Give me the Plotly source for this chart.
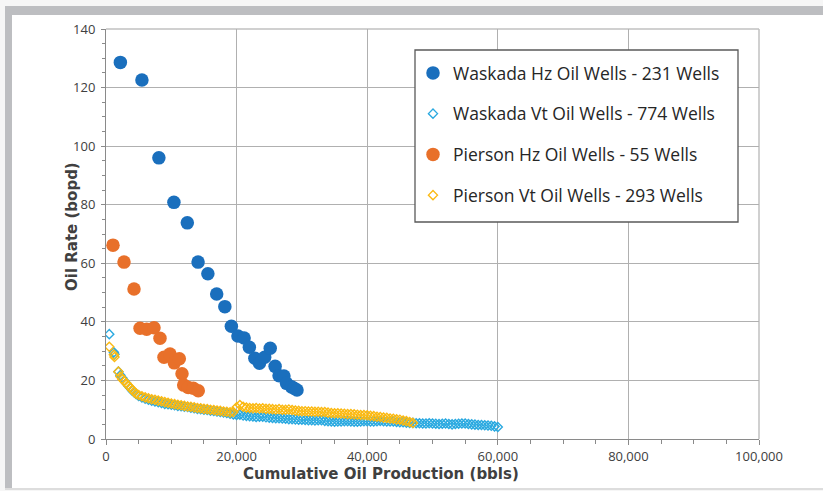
import plotly.graph_objects as go

# ---------------- data ----------------
waskada_hz_x = [2200, 5500, 8100, 10400, 12450, 14100, 15600, 16950, 18200, 19200, 20200, 21150,
                21950, 22800, 23500, 24300, 25150, 25900, 26500, 27250, 27650, 28400, 28800, 29250]
waskada_hz_y = [128.6, 122.6, 96.0, 80.8, 73.8, 60.4, 56.4, 49.5, 45.2, 38.5, 35.2, 34.5,
                31.3, 27.6, 25.9, 27.9, 31.0, 24.8, 21.6, 21.5, 19.0, 17.8, 17.3, 16.7]

pierson_hz_x = [1070, 2760, 4290, 5210, 6230, 7350, 8270, 8880, 9800, 10460, 11230, 11640,
                11900, 12600, 13370, 14130]
pierson_hz_y = [66.2, 60.4, 51.2, 37.8, 37.5, 38.0, 34.4, 27.9, 29.0, 26.0, 27.4, 22.3,
                18.4, 17.6, 17.3, 16.5]

waskada_vt_x = [500, 1200, 1300, 1900, 2200, 2500, 2800, 3100, 3400, 3700, 4000, 4300, 4600,
                5000, 5500, 6000, 6500, 7000, 7500, 8000, 8500, 9000, 9500, 10000, 10500,
                11000, 11500, 12000, 12500, 13000, 13500, 14000, 14500, 15000, 15500, 16000,
                16500, 17000, 17500, 18000, 18500, 19000, 19500, 20000, 20500, 21000, 21500,
                22000, 22500, 23000, 23500, 24000, 24500, 25000, 25500, 26000, 26500, 27000,
                27500, 28000, 28500, 29000, 29500, 30000, 30500, 31000, 31500, 32000, 32500,
                33000, 33500, 34000, 34500, 35000, 35500, 36000, 36500, 37000, 37500, 38000,
                38500, 39000, 39500, 40000, 40500, 41000, 41500, 42000, 42500, 43000, 43500,
                44000, 44500, 45000, 45500, 46000, 46500, 47000, 47500, 48000, 48500, 49000,
                49500, 50000, 50500, 51000, 51500, 52000, 52500, 53000, 53500, 54000, 54500,
                55000, 55500, 56000, 56500, 57000, 57500, 58000, 58500, 59000, 59500, 60000]
waskada_vt_y = [35.8, 29.6, 28.9, 23.0, 21.8, 20.8, 19.9, 19.0, 18.2, 17.4, 16.6, 16.0, 15.4,
                14.7, 14.2, 13.8, 13.4, 13.1, 12.8, 12.6, 12.3, 12.0, 11.9, 11.7, 11.5,
                11.3, 11.2, 11.0, 10.9, 10.7, 10.5, 10.3, 10.2, 10.0, 9.9, 9.7,
                9.6, 9.4, 9.2, 9.1, 8.9, 8.6, 8.4, 8.2, 8.3, 8.0, 7.9,
                7.8, 7.7, 7.5, 7.6, 7.6, 7.4, 7.3, 7.2, 7.1, 7.1, 7.0,
                6.9, 6.8, 6.8, 6.7, 6.6, 6.6, 6.5, 6.4, 6.4, 6.3, 6.4,
                6.4, 6.2, 6.1, 6.0, 5.9, 6.0, 6.0, 6.1, 6.1, 6.0, 5.9,
                5.9, 6.0, 6.1, 6.1, 6.0, 6.0, 6.1, 6.2, 6.1, 6.0, 6.0,
                6.0, 5.8, 5.7, 5.7, 5.6, 5.5, 5.5, 5.4, 5.4, 5.3, 5.3,
                5.4, 5.3, 5.2, 5.1, 5.2, 5.3, 5.1, 5.0, 5.1, 5.2, 5.3,
                5.3, 5.1, 5.0, 4.9, 4.8, 4.8, 4.7, 4.6, 4.5, 4.3, 4.1]

pierson_vt_x = [500, 1200, 1300, 1900, 2200, 2500, 2800, 3100, 3400, 3700, 4000, 4300, 4600,
                5000, 5500, 6000, 6500, 7000, 7500, 8000, 8500, 9000, 9500, 10000, 10500,
                11000, 11500, 12000, 12500, 13000, 13500, 14000, 14500, 15000, 15500, 16000,
                16500, 17000, 17500, 18000, 18500, 19000, 19500, 20000, 20500, 21000, 21500,
                22000, 22500, 23000, 23500, 24000, 24500, 25000, 25500, 26000, 26500, 27000,
                27500, 28000, 28500, 29000, 29500, 30000, 30500, 31000, 31500, 32000, 32500,
                33000, 33500, 34000, 34500, 35000, 35500, 36000, 36500, 37000, 37500, 38000,
                38500, 39000, 39500, 40000, 40500, 41000, 41500, 42000, 42500, 43000, 43500,
                44000, 44500, 45000, 45500, 46000, 46500, 47000]
pierson_vt_y = [31.5, 28.8, 28.0, 23.0, 21.3, 20.4, 19.7, 19.0, 18.3, 17.6, 16.8, 16.1, 15.5,
                15.0, 14.6, 14.2, 13.9, 13.6, 13.4, 13.1, 12.9, 12.6, 12.4, 12.1, 11.9,
                11.7, 11.5, 11.3, 11.1, 11.0, 10.8, 10.6, 10.5, 10.3, 10.2, 10.0,
                9.9, 9.7, 9.6, 9.4, 9.3, 9.1, 9.2, 10.8, 11.6, 11.0, 10.7,
                10.6, 10.5, 10.6, 10.4, 10.5, 10.3, 10.3, 10.2, 10.1, 10.2, 10.0,
                10.0, 10.1, 9.9, 9.7, 9.6, 9.5, 9.5, 9.4, 9.4, 9.3, 9.3,
                9.2, 9.2, 9.0, 8.9, 8.8, 8.8, 8.7, 8.6, 8.5, 8.5, 8.4,
                8.3, 8.2, 8.2, 8.1, 7.9, 7.8, 7.6, 7.5, 7.3, 7.2, 7.0,
                6.9, 6.7, 6.6, 6.3, 6.1, 5.8, 5.5]

series_names = ["Waskada Hz Oil Wells - 231 Wells", "Waskada Vt Oil Wells - 774 Wells",
                "Pierson Hz Oil Wells - 55 Wells", "Pierson Vt Oil Wells - 293 Wells"]

x_title = "Cumulative Oil Production (bbls)"
y_title = "Oil Rate (bopd)"

# ---------------- figure ----------------
W, H = 823, 491
L, R, T, B = 106, 64, 29, 52
pw, ph = W - L - R, H - T - B


def px(x):
    return (x - L) / pw


def py(y):
    return (H - B - y) / ph


fig = go.Figure()
fig.add_trace(go.Scatter(x=waskada_hz_x, y=waskada_hz_y, mode="markers", name=series_names[0],
                         legendgroup="a",
                         marker=dict(symbol="circle", size=13.5, color="#1a6fbd", line=dict(width=0))))
fig.add_trace(go.Scatter(x=waskada_vt_x, y=waskada_vt_y, mode="markers", name=series_names[1],
                         legendgroup="b",
                         marker=dict(symbol="diamond-open", size=7, color="#2aa9e0", line=dict(width=1.4))))
fig.add_trace(go.Scatter(x=pierson_hz_x, y=pierson_hz_y, mode="markers", name=series_names[2],
                         legendgroup="c",
                         marker=dict(symbol="circle", size=13.5, color="#e8702a", line=dict(width=0))))
fig.add_trace(go.Scatter(x=pierson_vt_x, y=pierson_vt_y, mode="markers", name=series_names[3],
                         legendgroup="d",
                         marker=dict(symbol="diamond-open", size=7, color="#fbb911", line=dict(width=1.4))))

tickfont = dict(family="Open Sans", size=13, color="#404040")

fig.update_xaxes(range=[0, 100000], dtick=20000, tick0=0, tickformat=",", showgrid=True,
                 gridcolor="#b0b0b0", gridwidth=1, showline=True, linecolor="#8a8a8a",
                 linewidth=1, ticks="outside", ticklen=5, tickcolor="#8a8a8a",
                 minor=dict(dtick=5000, ticks="outside", ticklen=4, tickcolor="#8a8a8a", showgrid=False),
                 tickfont=tickfont, zeroline=False, fixedrange=True)
fig.update_yaxes(range=[0, 140], dtick=20, tick0=0, showgrid=True,
                 gridcolor="#b0b0b0", gridwidth=1, showline=True, linecolor="#8a8a8a",
                 linewidth=1, ticks="outside", ticklen=4, tickcolor="#8a8a8a",
                 minor=dict(dtick=5, ticks="outside", ticklen=3, tickcolor="#8a8a8a", showgrid=False),
                 tickfont=tickfont, zeroline=False, ticklabelstandoff=3, fixedrange=True)

shapes = [
    # outer gray frame
    dict(type="rect", xref="paper", yref="paper", x0=px(5), x1=px(840), y0=py(488), y1=py(6),
         fillcolor="#bdbec1", line=dict(width=0), layer="below"),
    # white panel
    dict(type="rect", xref="paper", yref="paper", x0=px(12), x1=px(840), y0=py(488), y1=py(15),
         fillcolor="#ffffff", line=dict(width=0), layer="below"),
    # bottom line of frame
    dict(type="line", xref="paper", yref="paper", x0=px(5), x1=px(840), y0=py(489), y1=py(489),
         line=dict(color="#d4d4d4", width=1.5), layer="below"),
    # top and right plot borders
    dict(type="line", xref="paper", yref="paper", x0=0, x1=1, y0=1, y1=1,
         line=dict(color="#c0c0c0", width=1.5), layer="below"),
    dict(type="line", xref="paper", yref="paper", x0=1, x1=1, y0=0, y1=1,
         line=dict(color="#c0c0c0", width=1.5), layer="below"),
    # legend box
    dict(type="rect", xref="paper", yref="paper", x0=px(415), x1=px(738), y0=py(222), y1=py(50),
         fillcolor="#ffffff", line=dict(color="#595959", width=1.3), layer="above"),
]

annotations = [
    dict(text=f"<b>{x_title}</b>", xref="paper", yref="paper", x=px(381), y=py(473.5),
         showarrow=False, font=dict(family="DejaVu Sans", size=15, color="#404040"),
         xanchor="center", yanchor="middle"),
    dict(text=f"<b>{y_title}</b>", xref="paper", yref="paper", x=px(72), y=py(227),
         showarrow=False, textangle=-90, font=dict(family="DejaVu Sans", size=15, color="#404040"),
         xanchor="center", yanchor="middle"),
]

fig.update_layout(
    width=W, height=H,
    margin=dict(l=L, r=R, t=T, b=B, pad=0),
    paper_bgcolor="#f6f6f6",
    plot_bgcolor="rgba(0,0,0,0)",
    shapes=shapes,
    annotations=annotations,
    showlegend=True,
    legend=dict(x=px(413), y=py(55), xanchor="left", yanchor="top",
                bgcolor="rgba(0,0,0,0)", borderwidth=0,
                font=dict(family="Open Sans", size=17.5, color="#262626"),
                tracegroupgap=15, itemsizing="trace", itemwidth=30),
    font=dict(family="Open Sans"),
)

fig.write_html("out.html", config={"displayModeBar": False},
               post_script="document.body.style.margin='0';")
